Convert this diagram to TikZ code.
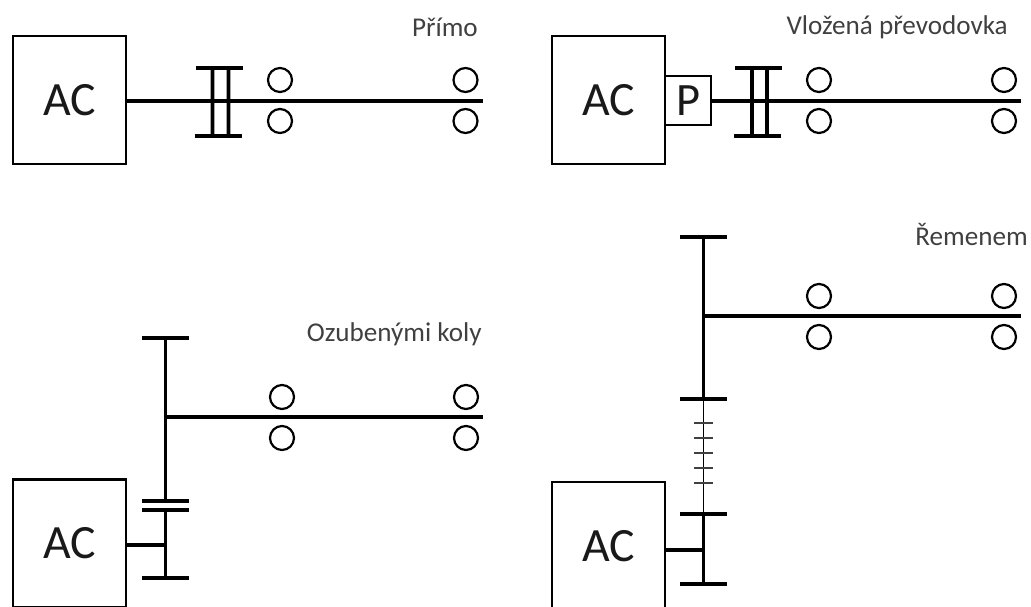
\documentclass[tikz,border=0pt]{standalone}
\usepackage{fontspec}
\setmainfont{Carlito}
\tikzset{
	motor/.style={rectangle,draw,line width=0.6mm,minimum width=28.25mm,minimum height=32mm,inner sep=0pt,font=\fontsize{34}{36}\selectfont,text=black!90},
	gearbox/.style={rectangle,draw,line width=0.55mm,minimum width=11.5mm,minimum height=12.25mm,inner sep=0pt,font=\fontsize{33}{35}\selectfont,text=black!90},
	bar/.style={rectangle,fill=black,minimum width=11.75mm,minimum height=0.9mm,inner sep=0pt},
	tick/.style={rectangle,fill=black!75,minimum width=4.75mm,minimum height=0.35mm,inner sep=0pt},
	ball/.style={circle,draw,line width=0.55mm,minimum size=6mm,inner sep=0pt},
	title/.style={anchor=east,inner sep=0pt,text=black!75,font=\fontsize{19.3}{22}\selectfont},
	shaft/.style={line width=0.9mm},
	belt/.style={line width=0.4mm}
}
\begin{document}
\begin{tikzpicture}[x=0.25mm,y=-0.25mm]
	\clip (0,0) rectangle (1031,606);
	% primo
	\node [motor] (ma) at (69.5,100) {AC};
	\node [bar] (ca) at (219.5,68) {};
	\node [bar] (cb) at (218.5,136) {};
	\coordinate (ea) at (483,101);
	\node [title] (ta) at (478,27) {Přímo};
	\draw [shaft] (ma.east |- ea) -- (ea);
	\draw [shaft] ([xshift=-1.75mm]ca.center) -- ([xshift=-1.5mm]cb.center);
	\draw [shaft] ([xshift=2.25mm]ca.center) -- ([xshift=2.5mm]cb.center);
	% prevodovka
	\node [motor] (mb) at (608.5,100) {AC};
	\node [gearbox] (pb) at (688,100.5) {P};
	\node [bar] (cc) at (758,68) {};
	\node [bar] (cd) at (757,136) {};
	\coordinate (eb) at (1021,101);
	\node [title] (tb) at (1008,27) {Vložená převodovka};
	\draw [shaft] (pb.east |- eb) -- (eb);
	\draw [shaft] ([xshift=-1.5mm]cc.center) -- ([xshift=-1.25mm]cd.center);
	\draw [shaft] ([xshift=2.25mm]cc.center) -- ([xshift=2.5mm]cd.center);
	% ozubena kola
	\node [motor] (mc) at (69.5,543.5) {AC};
	\node [bar] (gb) at (165.5,338) {};
	\node [bar] (gc) at (165.5,501) {};
	\node [bar] (gd) at (165.5,510) {};
	\node [bar] (ge) at (165.5,578) {};
	\coordinate (ec) at (483,417);
	\coordinate (fc) at (165,545);
	\node [title] (tc) at (482,334) {Ozubenými koly};
	\draw [shaft] (gb.center) -- (gc.center);
	\draw [shaft] (gd.center) -- (ge.center);
	\draw [shaft] (gb.center |- ec) -- (ec);
	\draw [shaft] (mc.east |- fc) -- (fc);
	% remen
	\node [motor] (md) at (608.5,546) {AC};
	\node [bar] (ha) at (703.5,237) {};
	\node [bar] (hb) at (703.5,399) {};
	\node [bar] (hc) at (703.5,514) {};
	\node [bar] (hd) at (703.5,584) {};
	\coordinate (ed) at (1021,316);
	\coordinate (fd) at (703,550);
	\node [title] (td) at (1028,234) {Řemenem};
	\draw [shaft] (ha.center) -- (hb.center);
	\draw [shaft] (hc.center) -- (hd.center);
	\draw [belt] (hb.center) -- (hc.center);
	\draw [shaft] (ha.center |- ed) -- (ed);
	\draw [shaft] (md.east |- fd) -- (fd);
	\foreach \i/\y in {1/423,2/438,3/453,4/468,5/483}
		\node [tick] (k\i) at (703.5,\y) {};
	% loziska
	\foreach \n/\x/\y in {a/280/80,b/280/121,c/465.5/80,d/465.5/121,e/819/80,f/819/121,g/1004/80,h/1004/121,i/282/397,j/282/438,k/466/397,l/466/438,m/819/296,n/819/337,o/1004/296,p/1004/337}
		\node [ball] (l\n) at (\x,\y) {};
\end{tikzpicture}
\end{document}
